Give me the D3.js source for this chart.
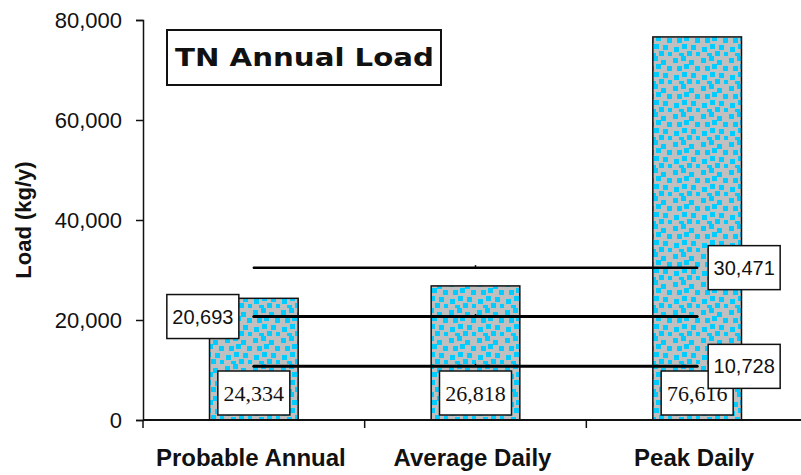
<!DOCTYPE html>
<html>
<head>
<meta charset="utf-8">
<script src="https://cdn.jsdelivr.net/npm/d3@7"></script>
<style>
  body { margin: 0; background: #fff; }
  svg { display: block; }
</style>
</head>
<body>
<svg id="chart"></svg>
<script>
// Chart data
const categories = ["Probable Annual", "Average Daily", "Peak Daily"];
const loads = [24334, 26818, 76616];
const refValues = [30471, 20693, 10728];
const refLabelSide = ["right", "left", "right"];
const yTicks = [0, 20000, 40000, 60000, 80000];

const width = 801, height = 475;
const margin = { top: 20, left: 143, bottom: 55 };

const svg = d3.select("#chart")
    .attr("width", width)
    .attr("height", height);

// dotted fill pattern (grey with cyan squares)
const defs = svg.append("defs");
const pat = defs.append("pattern")
    .attr("id", "dots")
    .attr("patternUnits", "userSpaceOnUse")
    .attr("width", 28).attr("height", 28);
pat.append("rect").attr("width", 28).attr("height", 28).attr("fill", "#c0c0c0");
const dotPos = [[1, 2], [9, 0], [17, 4], [23, 10], [5, 10], [12, 8], [19, 17], [2, 19], [10, 16], [15, 23], [24, 24], [7, 25]];
pat.selectAll("rect.d")
    .data(dotPos)
    .enter()
    .append("rect")
    .attr("class", "d")
    .attr("x", d => d[0]).attr("y", d => d[1])
    .attr("width", 5).attr("height", 5)
    .attr("fill", "#00ccff");

const x = d3.scaleBand()
    .domain(categories)
    .range([margin.left, 808])
    .paddingInner(0.6)
    .paddingOuter(0.3);

const y = d3.scaleLinear()
    .domain([0, 80000])
    .range([height - margin.bottom, margin.top]);

// bars
svg.selectAll("rect.bar")
    .data(loads)
    .enter()
    .append("rect")
    .attr("class", "bar")
    .attr("x", (d, i) => x(categories[i]))
    .attr("y", d => y(d))
    .attr("width", x.bandwidth())
    .attr("height", d => y(0) - y(d))
    .attr("fill", "url(#dots)")
    .attr("stroke", "#111")
    .attr("stroke-width", 1.5);

// value boxes at bar bottom
const fmt = d3.format(",");
const vb = svg.selectAll("g.vbox")
    .data(loads)
    .enter()
    .append("g")
    .attr("class", "vbox")
    .attr("transform", (d, i) => `translate(${x(categories[i]) + x.bandwidth() / 2},${y(0) - 27})`);
vb.append("rect")
    .attr("x", -36).attr("y", -22)
    .attr("width", 72).attr("height", 44)
    .attr("fill", "#fff")
    .attr("stroke", "#111")
    .attr("stroke-width", 1.5);
vb.append("text")
    .attr("text-anchor", "middle")
    .attr("y", 8)
    .style("font-family", "Liberation Serif, Times New Roman, serif")
    .style("font-size", "22px")
    .attr("fill", "#111")
    .text(d => fmt(d));

// reference lines
const x0 = x(categories[0]) + x.bandwidth() / 2;
const x1 = x(categories[2]) + x.bandwidth() / 2;
svg.selectAll("line.ref")
    .data(refValues)
    .enter()
    .append("line")
    .attr("class", "ref")
    .attr("x1", x0).attr("x2", x1)
    .attr("y1", d => y(d)).attr("y2", d => y(d))
    .attr("stroke", "#000")
    .attr("stroke-width", (d, i) => i === 0 ? 2.5 : 3)
    .attr("stroke-linecap", "round");

// small marker at middle of each line
svg.selectAll("line.mid")
    .data(refValues)
    .enter()
    .append("line")
    .attr("class", "mid")
    .attr("x1", x(categories[1]) + x.bandwidth() / 2)
    .attr("x2", x(categories[1]) + x.bandwidth() / 2)
    .attr("y1", d => y(d) - 2.5).attr("y2", d => y(d))
    .attr("stroke", "#000")
    .attr("stroke-width", 1.5);

const rl = svg.selectAll("g.rlab")
    .data(refValues)
    .enter()
    .append("g")
    .attr("class", "rlab")
    .attr("transform", (d, i) => refLabelSide[i] === "left"
        ? `translate(${x0 - 51},${y(d)})`
        : `translate(${x1 + 47},${y(d)})`);
rl.append("rect")
    .attr("x", -36).attr("y", -22)
    .attr("width", 72).attr("height", 44)
    .attr("fill", "#fff")
    .attr("stroke", "#111")
    .attr("stroke-width", 1.5);
rl.append("text")
    .attr("text-anchor", "middle")
    .attr("y", 7)
    .style("font-family", "Liberation Sans, Arial, sans-serif")
    .style("font-size", "20px")
    .attr("fill", "#111")
    .text(d => fmt(d));

// y axis
const yAxis = d3.axisLeft(y)
    .tickValues(yTicks)
    .tickSize(7)
    .tickPadding(14)
    .tickFormat(d3.format(","));
const gy = svg.append("g")
    .attr("transform", `translate(${margin.left},0)`)
    .call(yAxis);
gy.select(".domain").attr("stroke", "#111").attr("stroke-width", 1.5);
gy.selectAll(".tick line").attr("stroke", "#111").attr("stroke-width", 1.5);
gy.selectAll(".tick text")
    .style("font-family", "Liberation Sans, Arial, sans-serif")
    .style("font-size", "22px")
    .attr("fill", "#111");

// x axis
svg.append("line")
    .attr("x1", margin.left).attr("x2", width)
    .attr("y1", y(0)).attr("y2", y(0))
    .attr("stroke", "#111")
    .attr("stroke-width", 2);
const step = x.step();
svg.selectAll("line.xt")
    .data(categories)
    .enter()
    .append("line")
    .attr("class", "xt")
    .attr("x1", (d, i) => margin.left + i * step)
    .attr("x2", (d, i) => margin.left + i * step)
    .attr("y1", y(0)).attr("y2", y(0) + 8)
    .attr("stroke", "#111")
    .attr("stroke-width", 1.5);
svg.selectAll("text.cat")
    .data(categories)
    .enter()
    .append("text")
    .attr("class", "cat")
    .attr("x", d => x(d) + x.bandwidth() / 2 - 3)
    .attr("y", 466)
    .attr("text-anchor", "middle")
    .style("font-family", "Liberation Sans, Arial, sans-serif")
    .style("font-weight", "bold")
    .style("font-size", "24px")
    .attr("fill", "#111")
    .text(d => d);

// y axis title
svg.append("text")
    .attr("transform", "translate(31,220) rotate(-90)")
    .attr("text-anchor", "middle")
    .style("font-family", "Liberation Sans, Arial, sans-serif")
    .style("font-weight", "bold")
    .style("font-size", "22px")
    .attr("fill", "#111")
    .text("Load (kg/y)");

// title box
svg.append("rect")
    .attr("x", 167).attr("y", 30)
    .attr("width", 274).attr("height", 55)
    .attr("fill", "#fff")
    .attr("stroke", "#111")
    .attr("stroke-width", 2);
svg.append("text")
    .attr("x", 175)
    .attr("y", 66)
    .attr("textLength", 259)
    .attr("lengthAdjust", "spacingAndGlyphs")
    .style("font-family", "DejaVu Sans, Verdana, sans-serif")
    .style("font-weight", "bold")
    .style("font-size", "25px")
    .attr("fill", "#111")
    .text("TN Annual Load");
</script>
</body>
</html>
